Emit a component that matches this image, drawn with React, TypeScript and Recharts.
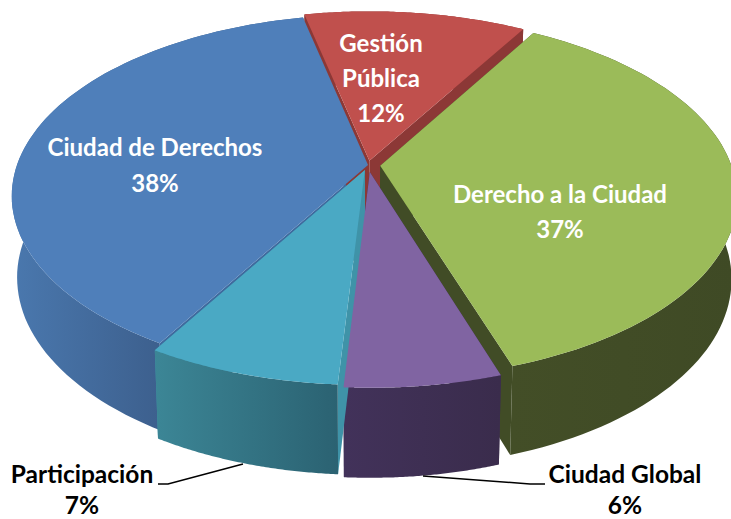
import { Pie, PieChart } from "recharts";

const categories = ["Ciudad de Derechos", "Gestión Pública", "Derecho a la Ciudad", "Ciudad Global", "Participación"];
// read from the slice edges; printed labels round these
const shares = [38.09, 11.9, 36.56, 6, 7.45];

const topColors = ["#4f7fba", "#c0504d", "#9bbb59", "#8064a2", "#4aa9c4"];
const sideColors = ["#3f6a9e", "#8c3836", "#414c26", "#3e2e50", "#3f93a8"];
const explode = [0, 0.025, 0.035, 0.04, 0.03];

// wall shading, left and right end of each gradient
const wallStops = [
  ["#4a78ae", "#3d608e"],
  ["#8c3836", "#8c3836"],
  ["#434e27", "#3f4a25"],
  ["#42325a", "#3a2c4c"],
  ["#3c8696", "#2b6272"]
];

const chartData = categories.map((name, i) => ({ name, value: shares[i], index: i }));

// fake perspective of the tilted disc
const SQUASH = 0.502;
const TILT = 0.171;
const DEPTH = 80;
const SHRINK = 0.985;

function project(cx: number, cy: number, r: number, u: number, v: number, bottom: boolean) {
  const w = 1 + TILT * v;
  const scale = bottom ? SHRINK : 1;
  return {
    x: cx + (r * u * scale) / w,
    y: cy - (r * SQUASH * v) / w + (bottom ? DEPTH / Math.pow(w, 0.6) : 0)
  };
}

function toPath(points: { x: number; y: number }[]) {
  return points.map((p, i) => `${i ? "L" : "M"}${p.x.toFixed(1)} ${p.y.toFixed(1)}`).join(" ") + " Z";
}

// Points of one slice, pushed out along its middle angle.
function sliceOutline(props: any, bottom: boolean) {
  const { cx, cy, outerRadius, startAngle, endAngle, index } = props;
  const mid = (((startAngle + endAngle) / 2) * Math.PI) / 180;
  const ox = explode[index] * Math.cos(mid);
  const oy = explode[index] * Math.sin(mid);
  const apex = project(cx, cy, outerRadius, ox, oy, bottom);
  const arc = [];
  const steps = 80;
  for (let s = 0; s <= steps; s++) {
    const t = ((startAngle + ((endAngle - startAngle) * s) / steps) * Math.PI) / 180;
    arc.push(project(cx, cy, outerRadius, ox + Math.cos(t), oy + Math.sin(t), bottom));
  }
  return { apex, arc };
}

function SliceWalls(props: any) {
  const { index } = props;
  const top = sliceOutline(props, false);
  const low = sliceOutline(props, true);
  const last = top.arc.length - 1;
  return (
    <g>
      <path d={toPath([top.apex, top.arc[0], low.arc[0], low.apex])} fill={sideColors[index]} />
      <path d={toPath([top.apex, top.arc[last], low.arc[last], low.apex])} fill={sideColors[index]} />
      <path d={toPath([...top.arc, ...[...low.arc].reverse()])} fill={`url(#wall-${index})`} />
    </g>
  );
}

function SliceTop(props: any) {
  const { apex, arc } = sliceOutline(props, false);
  return <path d={toPath([apex, ...arc])} fill={topColors[props.index]} />;
}

const labelLines: Record<string, string[]> = {
  "Ciudad de Derechos": ["Ciudad de Derechos", "38%"],
  "Gestión Pública": ["Gestión", "Pública", "12%"],
  "Derecho a la Ciudad": ["Derecho a la Ciudad", "37%"],
  "Ciudad Global": ["Ciudad Global", "6%"],
  Participación: ["Participación", "7%"]
};

const labelPlace: Record<string, { x: number; y: number; gap: number; size: number; color: string; leader?: string }> = {
  "Ciudad de Derechos": { x: 155, y: 156, gap: 36, size: 24, color: "#ffffff" },
  "Gestión Pública": { x: 381, y: 52, gap: 35, size: 24, color: "#ffffff" },
  "Derecho a la Ciudad": { x: 560, y: 203, gap: 35, size: 24, color: "#ffffff" },
  "Ciudad Global": { x: 625, y: 483, gap: 31, size: 24.5, color: "#000000", leader: "545,484 530,484 423,476" },
  Participación: { x: 82, y: 483, gap: 31, size: 24.5, color: "#000000", leader: "158,484 168,484 243,464" }
};

function SliceLabel(props: any) {
  const place = labelPlace[props.name];
  return (
    <g>
      {place.leader && <polyline points={place.leader} fill="none" stroke="#000000" strokeWidth={1.5} />}
      {labelLines[props.name].map((line, i) => (
        <text
          key={line}
          x={place.x}
          y={place.y + i * place.gap}
          textAnchor="middle"
          fill={place.color}
          fontFamily="Lato, sans-serif"
          fontWeight={700}
          fontSize={place.size}
        >
          {line}
        </text>
      ))}
    </g>
  );
}

export default function App() {
  return (
    <div style={{ position: "absolute", left: 0, top: 0, width: 731, height: 519, overflow: "hidden", background: "#ffffff" }}>
      <PieChart width={731} height={519} margin={{ top: 0, right: 0, bottom: 0, left: 0 }}>
        <defs>
          {wallStops.map((stops, i) => (
            <linearGradient key={i} id={`wall-${i}`} x1="0" y1="0" x2="1" y2="0">
              <stop offset="0%" stopColor={stops[0]} />
              <stop offset={i === 0 ? "50%" : "100%"} stopColor={stops[1]} />
            </linearGradient>
          ))}
        </defs>
        <Pie
          data={chartData}
          dataKey="value"
          nameKey="name"
          cx={368}
          cy={165}
          outerRadius={351}
          startAngle={239.6}
          endAngle={-120.4}
          stroke="none"
          shape={SliceWalls}
          isAnimationActive={false}
        />
        <Pie
          data={chartData}
          dataKey="value"
          nameKey="name"
          cx={368}
          cy={165}
          outerRadius={351}
          startAngle={239.6}
          endAngle={-120.4}
          stroke="none"
          shape={SliceTop}
          label={SliceLabel}
          labelLine={false}
          isAnimationActive={false}
        />
      </PieChart>
    </div>
  );
}
